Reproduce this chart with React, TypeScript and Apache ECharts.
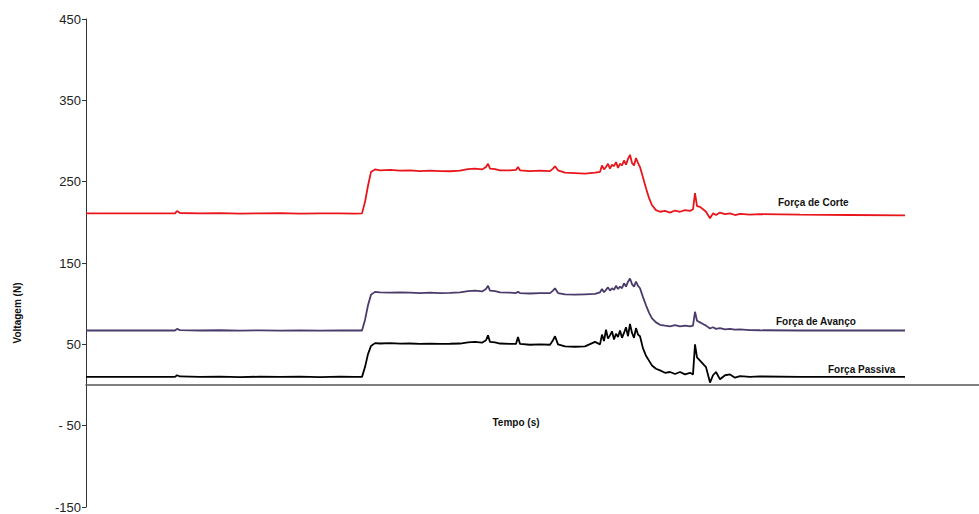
import React, { useEffect, useRef } from "react";
import * as echarts from "echarts";

// time axis (arbitrary sample units)
const tempo = [
  0, 34, 64, 89, 91, 94, 114, 134, 154, 174,
  194, 214, 234, 254, 269, 276, 279, 282, 285, 289,
  294, 304, 314, 324, 334, 344, 354, 364, 374, 382,
  389, 396, 400, 402, 404, 409, 414, 424, 430, 432,
  434, 444, 454, 464, 467, 469, 472, 479, 489, 499,
  509, 514, 516, 518, 520, 522, 524, 526, 528, 530,
  532, 534, 536, 538, 540, 542, 544, 546, 548, 550,
  552, 554, 557, 560, 563, 566, 570, 574, 579, 584,
  589, 594, 599, 604, 607, 609, 611, 614, 617, 620,
  624, 627, 630, 634, 639, 644, 649, 654, 664, 674,
  714, 764, 819,
];

const forcaCorte = [
  211, 211, 211, 211, 214, 211.5, 211, 211.2, 210.8, 211,
  211.2, 210.8, 211, 211, 210.8, 211, 225, 245, 262, 265,
  264, 264.5, 263.5, 264, 263, 263.5, 263, 262.8, 263.5, 265.5,
  266, 265, 268, 272, 266, 265.5, 264, 264, 264.5, 268,
  264, 263, 263.5, 263, 266, 269, 264, 261, 260.5, 260,
  261, 262, 270, 265, 268, 272, 266, 271, 269, 274,
  267, 272, 270, 276, 271, 278, 283, 273, 270, 279,
  273, 268, 255, 242, 230, 221, 215, 213, 214, 212,
  214.5, 213, 215, 214, 216, 236, 220, 219, 216, 213,
  205, 211, 209, 212, 210, 211, 209, 210.5, 209.5, 210,
  209.5, 209, 208.5,
];

const forcaAvanco = [
  67, 67, 67, 67, 69, 67.5, 67, 67.3, 66.8, 67.2,
  66.9, 67.2, 66.9, 67.1, 67, 67, 80, 98, 111, 114.5,
  114, 113.5, 114, 113.5, 113, 113.5, 113, 113.3, 114, 115.5,
  116, 115, 118, 122, 116, 115.5, 114, 113.5, 113, 114.5,
  113, 112.5, 113, 113, 116, 119, 113, 111.5, 111, 111.5,
  112, 114, 118, 114, 117, 120, 116, 119, 117, 122,
  118, 121, 119, 125, 121, 127, 131, 124, 121, 127,
  122, 119, 108, 98, 89, 82, 77, 74, 73, 72,
  73.5, 72, 73, 72, 73, 90, 79, 77, 75, 73,
  69.5, 71, 69, 70, 68.5, 69, 68, 68.5, 67.5, 67.3,
  67, 67, 67,
];

const forcaPassiva = [
  10, 10, 10, 10, 12, 10.5, 10, 10.3, 9.8, 10.2,
  9.9, 10.3, 9.8, 10.2, 10, 10, 22, 38, 48, 51.5,
  51, 51.5, 50.8, 51, 50.5, 50.8, 50.5, 50.7, 51, 52.5,
  53, 52, 55, 61, 53, 52.5, 51, 50.5, 50.5, 59,
  50.5, 49.5, 50, 49.5, 55, 60, 50, 47.5, 47, 47.5,
  53, 50, 62, 54, 68, 57, 61, 66, 56, 63,
  59, 67, 58, 64, 71, 60, 75, 64, 58, 70,
  62, 60, 45, 36, 30, 24, 20, 18, 15, 16,
  13.5, 16, 13, 15, 13, 50, 34, 30, 26, 22,
  3, 12, 16, 7, 12, 13, 9, 11, 10, 10.5,
  10, 10, 10,
];

const seriesNames = ["Força de Corte", "Força de Avanço", "Força Passiva"];
const seriesColors = ["#e8161c", "#4a3b6b", "#000000"];
const seriesValues = [forcaCorte, forcaAvanco, forcaPassiva];

export default function App() {
  const ref = useRef<HTMLDivElement>(null);
  useEffect(() => {
    document.body.style.margin = "0";
    const chart = echarts.init(ref.current!, null, { renderer: "svg" });
    const labelFont = "bold 10px Arial, 'Liberation Sans', sans-serif";
    chart.setOption({
      animation: false,
      backgroundColor: "#ffffff",
      grid: { left: 86, right: 0, top: 19, bottom: 7, containLabel: false },
      xAxis: {
        type: "value",
        min: 0,
        max: 893,
        axisLine: { show: true, onZero: true, lineStyle: { color: "#555555", width: 1.5 } },
        axisTick: { show: false },
        axisLabel: { show: false },
        splitLine: { show: false },
      },
      yAxis: {
        type: "value",
        min: -150,
        max: 450,
        interval: 100,
        axisLine: { show: true, lineStyle: { color: "#333333", width: 1 } },
        axisTick: { show: true, length: 4, lineStyle: { color: "#333333" } },
        axisLabel: {
          color: "#222222",
          fontSize: 13,
          fontFamily: "Arial, 'Liberation Sans', sans-serif",
          margin: 5,
          formatter: (v: number) => (v === -50 ? "- 50" : String(v)),
        },
        splitLine: { show: false },
      },
      series: seriesValues.map((vals, k) => ({
        name: seriesNames[k],
        type: "line",
        showSymbol: false,
        symbol: "none",
        data: tempo.map((t, i) => [t, vals[i]]),
        lineStyle: { color: seriesColors[k], width: 1.8 },
        itemStyle: { color: seriesColors[k] },
        z: 3 - k,
      })),
      graphic: [
        { type: "text", x: 778, y: 202, style: { text: seriesNames[0], font: labelFont, fill: "#111", textVerticalAlign: "middle" } },
        { type: "text", x: 776, y: 321, style: { text: seriesNames[1], font: labelFont, fill: "#111", textVerticalAlign: "middle" } },
        { type: "text", x: 828, y: 369, style: { text: seriesNames[2], font: labelFont, fill: "#111", textVerticalAlign: "middle" } },
        { type: "text", x: 516, y: 422, style: { text: "Tempo (s)", font: labelFont, fill: "#111", textAlign: "center", textVerticalAlign: "middle" } },
        { type: "text", x: 17, y: 313, rotation: Math.PI / 2, style: { text: "Voltagem (N)", font: labelFont, fill: "#111", textAlign: "center", textVerticalAlign: "middle" } },
      ],
    });
    return () => chart.dispose();
  }, []);
  return <div ref={ref} style={{ width: 979, height: 514 }} />;
}
